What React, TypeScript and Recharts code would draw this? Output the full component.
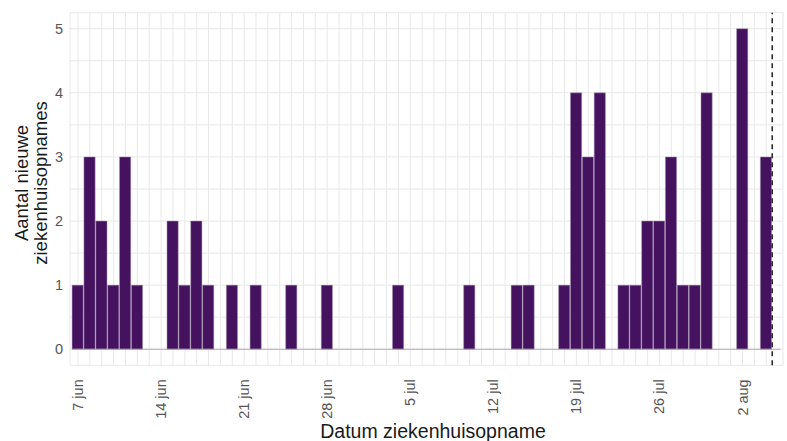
import React from "react";
import {
  Bar,
  BarChart,
  CartesianGrid,
  Label,
  ReferenceLine,
  XAxis,
  YAxis,
} from "recharts";

// daily hospital admissions, 7 jun .. 4 aug
const counts = [
  1, 3, 2, 1, 3, 1, 0,
  0, 2, 1, 2, 1, 0, 1,
  0, 1, 0, 0, 1, 0, 0,
  1, 0, 0, 0, 0, 0, 1,
  0, 0, 0, 0, 0, 1, 0,
  0, 0, 1, 1, 0, 0, 1,
  4, 3, 4, 0, 1, 1, 2,
  2, 3, 1, 1, 4, 0, 0,
  5, 0, 3,
];

const weekLabels = ["7 jun", "14 jun", "21 jun", "28 jun", "5 jul", "12 jul", "19 jul", "26 jul", "2 aug"];
const yTicks = [0, 0.5, 1, 1.5, 2, 2.5, 3, 3.5, 4, 4.5, 5];

const data = counts.map((count, day) => ({ day, count }));
const dayTicks = counts.map((_, i) => i);

const FONT = "'Liberation Sans', Arial, sans-serif";

function XTick({ x, y, payload }: any) {
  const d = payload.value as number;
  if (d % 7 !== 0) return null;
  return (
    <text
      transform={`translate(${x},${y + 6}) rotate(-90)`}
      textAnchor="end"
      dominantBaseline="central"
      fontSize={14.5}
      fontFamily={FONT}
      fill="#555"
    >
      {weekLabels[d / 7]}
    </text>
  );
}

function YTick({ y, payload }: any) {
  const v = payload.value as number;
  if (!Number.isInteger(v)) return null;
  return (
    <text x={63} y={y} textAnchor="end" dominantBaseline="central" fontSize={14.5} fontFamily={FONT} fill="#555">
      {v}
    </text>
  );
}

export default function App() {
  return (
    <div style={{ position: "absolute", left: 0, top: 0, background: "#fff" }}>
      <BarChart
        width={787}
        height={441}
        data={data}
        margin={{ top: 12.7, right: 4, bottom: 0, left: 0 }}
      >
        <CartesianGrid stroke="#e8e8e8" strokeWidth={1} />
        <XAxis
          type="number"
          dataKey="day"
          domain={[-0.674, 59.41]}
          ticks={dayTicks}
          interval={0}
          tick={<XTick />}
          tickLine={false}
          axisLine={false}
          height={75.7}
        >
          <Label
            content={() => (
              <text x={433} y={431} textAnchor="middle" dominantBaseline="central" fontSize={19.5} fontFamily={FONT} fill="#1a1a1a">
                Datum ziekenhuisopname
              </text>
            )}
          />
        </XAxis>
        <YAxis
          type="number"
          domain={[-0.25, 5.25]}
          ticks={yTicks}
          interval={0}
          tick={<YTick />}
          tickLine={false}
          axisLine={false}
          width={70}
        >
          <Label
            content={() => (
              <g fontSize={18.5} fontFamily={FONT} fill="#1a1a1a" textAnchor="middle">
                <text transform="translate(21.5,183) rotate(-90)" dominantBaseline="central">
                  Aantal nieuwe
                </text>
                <text transform="translate(40,183) rotate(-90)" dominantBaseline="central">
                  ziekenhuisopnames
                </text>
              </g>
            )}
          />
        </YAxis>
        <ReferenceLine
          segment={[{ x: -0.45, y: 0 }, { x: 59.2, y: 0 }]}
          stroke="#b3a7bb"
          strokeWidth={1.2}
        />
        <Bar
          dataKey="count"
          fill="#44125f"
          stroke="#a593b1"
          strokeWidth={0.5}
          barSize={11.2}
          isAnimationActive={false}
        />
        <ReferenceLine x={58.5} stroke="#111" strokeWidth={1.4} strokeDasharray="5 4" />
      </BarChart>
    </div>
  );
}
